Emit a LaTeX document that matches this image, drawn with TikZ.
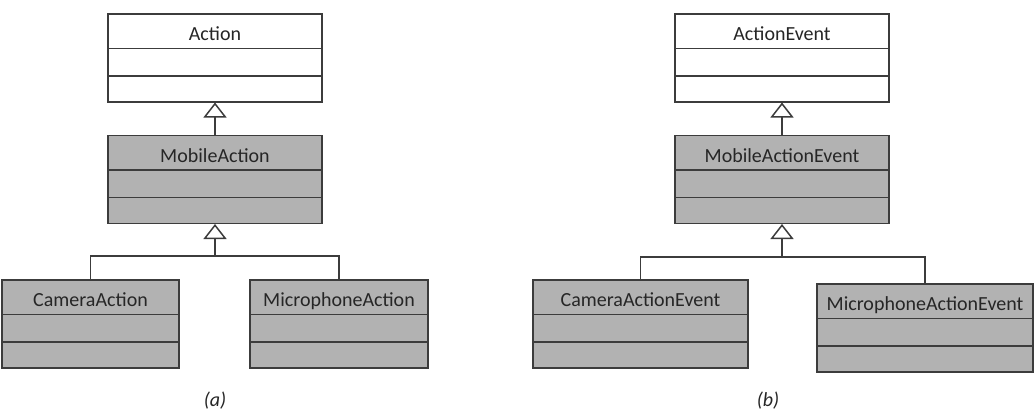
\documentclass[tikz,border=0pt]{standalone}
\usepackage{fontspec}
\setmainfont{Carlito}
\usetikzlibrary{shapes.multipart, arrows.meta, positioning, calc}
\definecolor{umlline}{HTML}{3C3C3C}
\definecolor{umltext}{HTML}{262626}
\definecolor{umlgray}{HTML}{B2B2B2}
\newcommand{\clsname}[1]{\rule[-7pt]{0pt}{33pt}#1}
\newcommand{\clsmid}{\rule{0pt}{26pt}}
\newcommand{\clslow}{\rule{0pt}{24.5pt}}
\tikzset{
  cls/.style={rectangle split, rectangle split parts=3, draw=umlline, line width=1.5pt,
              fill=white, text=umltext, font=\fontsize{20}{24}\selectfont,
              inner xsep=0pt, inner ysep=0pt, minimum width=214pt},
  clsmob/.style={cls, fill=umlgray},
  inherit/.style={-{Triangle[open, length=15pt 0, width=23pt 0]}, draw=umlline, line width=1.5pt},
  link/.style={draw=umlline, line width=1.5pt},
  subcap/.style={font=\fontsize{20}{24}\selectfont\itshape, text=umltext},
}

\begin{document}
\begin{tikzpicture}[x=1pt, y=-1pt]
    \useasboundingbox (0,0) rectangle (1036,416);
    % (a) actions
    \node[cls, anchor=north] (action) at (215,13)
      {\clsname{Action}\nodepart{two}\clsmid\nodepart{three}\clslow};
    \node[clsmob, below=32pt of action] (mobile)
      {\clsname{MobileAction}\nodepart{two}\clsmid\nodepart{three}\clslow};
    \node[clsmob, below=55pt of mobile, xshift=-124.5pt, minimum width=177pt] (camera)
      {\clsname{CameraAction}\nodepart{two}\clsmid\nodepart{three}\clslow};
    \node[clsmob, below=55pt of mobile, xshift=124pt, minimum width=178pt] (micro)
      {\clsname{MicrophoneAction}\nodepart{two}\clsmid\nodepart{three}\clslow};
    \node[subcap] (capa) at (215,401) {(a)};
    \coordinate (ajoin) at ($(mobile.south)+(0,32)$);
    \draw[inherit] (mobile) -- (action);
    \draw[link] (camera.north) |- (ajoin);
    \draw[link] (micro.north) |- (ajoin);
    \draw[inherit] (ajoin) -- (mobile.south);
    % (b) action events
    \node[cls, anchor=north] (event) at (782,13)
      {\clsname{ActionEvent}\nodepart{two}\clsmid\nodepart{three}\clslow};
    \node[clsmob, below=32pt of event] (mobevent)
      {\clsname{MobileActionEvent}\nodepart{two}\clsmid\nodepart{three}\clslow};
    \node[clsmob, below=55pt of mobevent, xshift=-141.5pt, minimum width=215pt] (camevent)
      {\clsname{CameraActionEvent}\nodepart{two}\clsmid\nodepart{three}\clslow};
    \node[clsmob, below=59pt of mobevent, xshift=143pt, minimum width=216pt] (micevent)
      {\clsname{MicrophoneActionEvent}\nodepart{two}\clsmid\nodepart{three}\clslow};
    \node[subcap] (capb) at (768,401) {(b)};
    \coordinate (bjoin) at ($(mobevent.south)+(0,33)$);
    \draw[inherit] (mobevent) -- (event);
    \draw[link] (camevent.north) |- (bjoin);
    \draw[link] (micevent.north) |- (bjoin);
    \draw[inherit] (bjoin) -- (mobevent.south);
\end{tikzpicture}
\end{document}
